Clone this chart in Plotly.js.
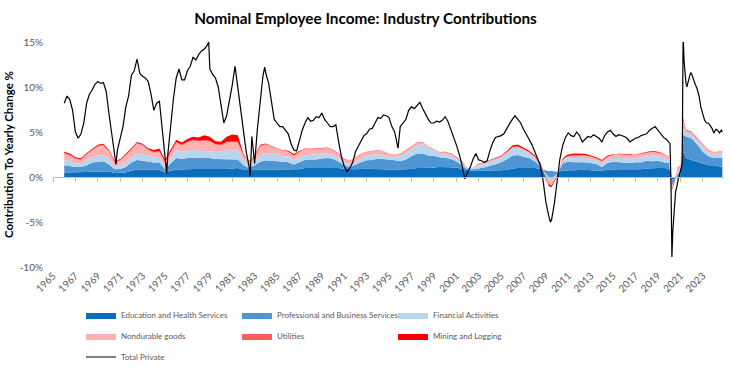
<!DOCTYPE html>
<html>
<head>
<meta charset="utf-8">
<script src="https://cdn.plot.ly/plotly-3.0.1.min.js"></script>
<style>html,body{margin:0;padding:0;background:#fff;}#chart{width:731px;height:368px;}</style>
</head>
<body>
<div id="chart"></div>
<script>
// ---- data ----
const years = [
1966.0,1966.5,1967.0,1967.5,1968.0,1968.5,1969.0,1969.5,1970.0,1970.5,
1971.0,1971.5,1972.0,1972.5,1973.0,1973.5,1974.0,1974.5,1975.0,1975.5,
1976.0,1976.5,1977.0,1977.5,1978.0,1978.5,1979.0,1979.5,1980.0,1980.5,
1981.0,1981.5,1982.0,1982.5,1983.0,1983.5,1984.0,1984.5,1985.0,1985.5,
1986.0,1986.5,1987.0,1987.5,1988.0,1988.5,1989.0,1989.5,1990.0,1990.5,
1991.0,1991.5,1992.0,1992.5,1993.0,1993.5,1994.0,1994.5,1995.0,1995.5,
1996.0,1996.5,1997.0,1997.5,1998.0,1998.5,1999.0,1999.5,2000.0,2000.5,
2001.0,2001.5,2002.0,2002.5,2003.0,2003.5,2004.0,2004.5,2005.0,2005.5,
2006.0,2006.5,2007.0,2007.5,2008.0,2008.5,2008.75,2009.0,2009.25,2009.5,
2009.75,2010.0,2010.25,2010.5,2010.75,2011.0,2011.5,2012.0,2012.5,2013.0,
2013.5,2014.0,2014.5,2015.0,2015.5,2016.0,2016.5,2017.0,2017.5,2018.0,
2018.5,2019.0,2019.5,2019.75,2020.0,2020.17,2020.25,2020.5,2020.75,2021.0,
2021.25,2021.5,2022.0,2022.5,2023.0,2023.5,2024.0,2024.5,2024.75];

const eduHealth = [
0.5,0.5,0.5,0.5,0.55,0.6,0.6,0.65,0.6,0.45,
0.45,0.5,0.7,0.8,0.8,0.8,0.8,0.8,0.5,0.7,
0.8,0.8,0.85,0.9,0.9,0.9,0.9,0.85,0.9,0.9,
0.95,1.0,0.8,0.75,0.8,0.8,0.85,0.85,0.85,0.8,
0.8,0.8,0.85,1.0,1.0,1.0,1.0,1.0,1.0,1.0,
0.9,0.85,0.85,0.9,0.95,0.9,0.9,0.85,0.8,0.8,
0.8,0.85,0.9,1.0,1.0,1.0,1.05,1.1,1.1,1.1,
1.05,0.9,0.75,0.7,0.7,0.7,0.75,0.75,0.75,0.8,
0.95,1.0,1.0,1.0,1.0,0.9,0.75,0.7,0.65,0.6,
0.55,0.55,0.6,0.7,0.7,0.75,0.75,0.8,0.8,0.75,
0.75,0.7,0.8,0.85,0.85,0.85,0.85,0.85,0.85,0.95,
1.0,1.0,1.0,0.95,0.95,0.3,-0.3,-0.2,0.0,0.2,
2.8,2.1,1.9,1.7,1.5,1.3,1.3,1.15,1.1];

const profBusiness = [
0.8,0.7,0.6,0.6,0.75,1.0,1.1,1.1,0.8,0.4,
0.45,0.6,0.9,1.1,1.0,0.9,0.8,0.8,0.35,0.8,
1.3,1.2,1.25,1.2,1.25,1.2,1.2,1.15,1.1,1.1,
1.05,0.95,0.5,0.25,0.5,0.9,1.0,0.95,0.9,0.9,
0.85,0.6,0.8,0.9,0.95,0.95,1.05,1.1,1.0,0.7,
0.4,0.25,0.5,0.75,0.9,1.0,1.15,1.15,1.1,1.05,
0.95,1.1,1.4,1.6,1.6,1.4,1.3,1.1,1.05,0.9,
0.7,0.4,0.1,0.15,0.25,0.35,0.5,0.65,0.9,1.15,
1.4,1.45,1.25,1.1,0.75,0.35,0.0,-0.3,-0.6,-0.65,
-0.45,-0.1,0.3,0.8,0.9,0.95,0.9,0.85,0.85,0.8,
0.7,0.4,0.75,0.85,0.8,0.8,0.7,0.8,0.8,0.85,
0.75,0.8,0.6,0.6,0.6,-0.5,-0.7,-0.2,0.3,0.4,
1.9,2.4,2.4,1.9,1.3,1.0,0.8,0.95,1.0];

const financial = [
0.6,0.6,0.4,0.4,0.6,0.6,0.7,0.7,0.6,0.35,
0.4,0.6,0.6,0.7,0.7,0.7,0.6,0.6,0.3,0.6,
0.9,0.8,0.9,0.9,0.85,0.7,0.75,0.8,0.8,1.0,
0.95,1.05,0.6,0.3,0.6,0.7,0.75,0.8,0.8,0.6,
0.65,0.5,0.6,0.5,0.55,0.6,0.55,0.5,0.45,0.45,
0.3,0.25,0.35,0.45,0.5,0.55,0.5,0.45,0.35,0.35,
0.55,0.65,0.75,0.95,1.0,0.8,0.6,0.4,0.4,0.4,
0.3,0.3,0.15,0.2,0.35,0.4,0.45,0.5,0.5,0.65,
0.8,0.8,0.75,0.55,0.45,0.25,0.05,-0.2,-0.35,-0.4,
-0.3,-0.2,0.05,0.25,0.45,0.45,0.45,0.5,0.45,0.45,
0.4,0.4,0.4,0.4,0.45,0.45,0.45,0.45,0.5,0.5,
0.65,0.55,0.5,0.45,0.4,-0.1,-0.2,0.1,0.3,0.35,
0.7,0.4,0.4,0.4,0.5,0.4,0.4,0.5,0.5];

const nondurable = [
0.7,0.6,0.5,0.4,0.6,0.8,1.0,1.05,0.8,0.45,
0.5,0.7,0.9,1.1,1.0,0.6,0.5,0.6,0.45,0.6,
0.8,0.7,0.85,1.05,0.95,1.2,1.1,0.8,0.7,0.85,
0.9,0.85,0.5,0.4,0.3,1.0,1.0,0.7,0.55,0.6,
0.55,0.55,0.55,0.7,0.55,0.55,0.6,0.6,0.5,0.4,
0.35,0.4,0.5,0.45,0.4,0.4,0.4,0.4,0.3,0.28,
0.28,0.35,0.3,0.25,0.25,0.2,0.15,0.15,0.2,0.18,
0.1,0.05,-0.05,0.0,0.15,0.1,0.12,0.12,0.12,0.15,
0.15,0.15,0.12,0.1,0.05,-0.1,-0.2,-0.35,-0.5,-0.5,
-0.3,-0.2,0.05,0.1,0.15,0.15,0.3,0.25,0.3,0.25,
0.2,0.25,0.3,0.35,0.45,0.4,0.45,0.35,0.4,0.4,
0.4,0.35,0.45,0.35,0.35,-0.3,-0.2,-0.1,0.35,0.3,
0.9,0.25,0.25,0.25,0.25,0.25,0.25,0.25,0.25];

const utilities = [
0.08,0.08,0.08,0.08,0.08,0.08,0.08,0.08,0.08,0.08,
0.08,0.08,0.08,0.08,0.08,0.08,0.08,0.08,0.08,0.08,
0.08,0.08,0.08,0.08,0.08,0.08,0.08,0.08,0.08,0.08,
0.08,0.08,0.08,0.08,0.08,0.08,0.08,0.08,0.08,0.08,
0.08,0.08,0.08,0.08,0.06,0.06,0.06,0.06,0.06,0.06,
0.05,0.05,0.06,0.06,0.05,0.04,0.04,0.03,0.03,0.02,
0.02,0.02,0.02,0.02,0.02,0.02,0.01,0.01,0.02,0.02,
0.02,0.02,0.01,0.01,0.02,0.02,0.02,0.02,0.02,0.02,
0.03,0.03,0.03,0.03,0.03,0.03,0.02,0.02,0.0,0.0,
0.01,0.02,0.02,0.02,0.02,0.02,0.02,0.02,0.02,0.02,
0.02,0.02,0.02,0.02,0.02,0.02,0.02,0.02,0.02,0.02,
0.02,0.02,0.02,0.02,0.02,0.0,0.0,0.0,0.05,0.03,
0.05,0.02,0.02,0.02,0.02,0.02,0.02,0.02,0.02];

const mining = [
0.12,0.12,0.12,0.1,0.1,0.1,0.1,0.12,0.12,0.1,
0.1,0.1,0.1,0.12,0.12,0.12,0.22,0.3,0.25,0.25,
0.25,0.25,0.3,0.35,0.35,0.55,0.45,0.3,0.35,0.55,
0.8,0.7,0.1,-0.05,0.15,0.1,0.05,0.05,0.0,0.0,
-0.1,-0.15,-0.05,0.02,0.02,0.03,0.03,0.03,0.03,0.03,
0.02,0.0,0.0,0.0,0.0,0.01,0.01,0.01,0.01,0.01,
0.02,0.02,0.03,0.03,0.02,0.0,0.0,0.01,0.03,0.04,
0.04,0.04,0.02,0.0,0.02,0.03,0.05,0.06,0.08,0.12,
0.17,0.17,0.15,0.15,0.15,0.15,0.05,-0.05,-0.2,-0.2,
-0.15,-0.05,0.05,0.12,0.15,0.18,0.2,0.2,0.15,0.12,
0.12,0.12,0.12,0.05,-0.02,-0.05,-0.05,0.02,0.05,0.08,
0.1,0.08,0.05,0.03,0.0,-0.2,-0.1,-0.15,0.05,0.0,
0.2,0.05,0.05,0.05,0.03,0.02,0.02,0.02,0.02];

const totalX = [
1966.00,1966.25,1966.50,1966.75,1967.00,1967.25,1967.50,1967.75,1968.00,1968.25,1968.50,1968.75,
1969.00,1969.25,1969.50,1969.75,1970.00,1970.25,1970.50,1970.62,1970.75,1971.00,1971.25,1971.50,1971.75,
1972.00,1972.25,1972.50,1972.75,1973.00,1973.25,1973.50,1973.75,1974.00,1974.25,1974.50,1974.75,
1975.00,1975.15,1975.25,1975.50,1975.75,1976.00,1976.25,1976.50,1976.75,1977.00,1977.25,1977.50,1977.75,
1978.00,1978.25,1978.50,1978.75,1978.90,1979.00,1979.25,1979.50,1979.75,1980.00,1980.25,1980.50,1980.75,
1981.00,1981.25,1981.50,1981.75,1982.00,1982.25,1982.50,1982.60,1982.75,1983.00,1983.25,1983.50,1983.75,1983.90,
1984.00,1984.25,1984.50,1984.75,1985.00,1985.25,1985.50,1985.75,1986.00,1986.25,1986.50,1986.75,
1987.00,1987.25,1987.50,1987.75,1988.00,1988.25,1988.50,1988.75,1989.00,1989.25,1989.50,1989.75,
1990.00,1990.25,1990.50,1990.75,1991.00,1991.25,1991.50,1991.75,1992.00,1992.25,1992.50,1992.75,
1993.00,1993.25,1993.50,1993.75,1994.00,1994.25,1994.50,1994.75,1995.00,1995.25,1995.50,1995.80,
1996.00,1996.25,1996.50,1996.75,1997.00,1997.25,1997.50,1997.75,1998.00,1998.25,1998.50,1998.75,
1999.00,1999.25,1999.50,1999.75,2000.00,2000.25,2000.50,2000.75,2001.00,2001.25,2001.50,2001.75,
2002.00,2002.25,2002.50,2002.75,2003.00,2003.25,2003.50,2003.75,2004.00,2004.25,2004.50,2004.75,
2005.00,2005.25,2005.50,2005.75,2006.00,2006.25,2006.50,2006.75,2007.00,2007.25,2007.50,2007.75,
2008.00,2008.25,2008.50,2008.75,2009.00,2009.25,2009.40,2009.50,2009.75,
2010.00,2010.25,2010.50,2010.75,2011.00,2011.25,2011.50,2011.75,2012.00,2012.25,2012.50,2012.75,
2013.00,2013.25,2013.50,2013.75,2014.00,2014.25,2014.50,2014.75,2015.00,2015.25,2015.50,2015.75,
2016.00,2016.25,2016.50,2016.75,2017.00,2017.25,2017.50,2017.75,2018.00,2018.25,2018.50,2018.75,
2019.00,2019.25,2019.50,2019.75,2020.00,2020.08,2020.17,2020.25,2020.33,2020.42,2020.50,2020.58,
2020.67,2020.75,2020.83,2020.92,2021.00,2021.08,2021.17,2021.25,2021.33,2021.42,2021.50,2021.58,
2021.67,2021.75,2021.83,2021.92,2022.00,2022.17,2022.33,2022.50,2022.67,2022.83,2023.00,2023.17,
2023.33,2023.50,2023.67,2023.83,2024.00,2024.17,2024.33,2024.50,2024.67,2024.75];

const totalPrivate = [
8.2,9.0,8.6,7.4,5.0,4.3,4.8,6.0,8.2,9.2,9.7,10.3,
10.6,10.4,10.5,9.5,7.0,5.0,2.5,1.4,3.0,4.3,5.6,7.8,9.0,
11.3,11.8,13.1,11.5,11.2,11.0,10.6,9.2,7.4,8.2,8.4,5.5,
2.0,0.4,2.5,6.0,8.7,11.0,12.0,10.8,10.8,11.8,12.3,13.3,13.0,
13.6,14.0,14.2,14.6,15.0,12.0,11.4,11.0,10.0,8.2,6.0,6.8,8.4,
10.2,12.3,10.0,8.0,5.2,2.8,1.2,0.1,4.5,1.5,5.4,8.6,11.3,12.2,
11.5,10.4,8.4,6.4,6.0,5.6,5.6,5.2,4.8,3.7,3.0,2.9,
4.2,5.2,6.0,6.6,6.2,6.3,6.7,6.6,7.1,6.4,6.0,5.6,
5.6,5.8,3.9,2.2,1.2,0.6,1.0,1.6,2.8,3.5,4.0,4.6,
4.8,5.3,5.4,6.0,6.6,6.5,6.9,6.8,6.6,5.6,5.0,3.2,
5.6,6.0,6.4,7.4,7.8,7.6,8.0,8.3,7.6,6.9,6.4,6.0,
6.0,6.2,6.1,6.3,6.7,6.2,5.4,4.4,3.6,2.6,1.4,-0.2,
0.4,1.1,2.0,2.6,1.9,1.8,1.6,1.8,2.9,3.8,4.4,4.5,
4.6,4.8,5.4,5.9,6.4,6.8,6.4,6.0,5.3,4.8,4.2,3.6,
2.8,2.0,1.3,-0.4,-2.8,-4.3,-5.0,-4.8,-3.0,
-0.5,2.0,3.5,4.4,4.9,4.6,4.5,5.0,4.6,3.9,4.2,4.5,
4.4,4.7,4.5,4.3,3.9,4.6,5.0,5.2,4.8,4.5,4.7,4.6,
4.5,4.3,3.9,4.1,4.3,4.4,4.6,4.7,4.8,5.2,5.4,5.6,
5.2,4.8,4.4,4.2,3.9,3.7,-0.9,-8.9,-6.0,-4.2,-3.0,-1.6,
-1.2,-0.5,-0.1,0.2,0.5,1.0,1.5,16.0,13.0,11.5,10.5,10.0,
10.4,11.0,11.3,11.6,11.5,10.8,10.3,9.8,9.0,7.8,7.0,6.3,
6.0,6.0,5.7,5.4,4.9,5.3,5.2,4.9,5.2,5.0];

const seriesNames = ["Education and Health Services","Professional and Business Services","Financial Activities",
                     "Nondurable goods","Utilities","Mining and Logging"];
const seriesValues = [eduHealth, profBusiness, financial, nondurable, utilities, mining];
const seriesColors = ["#0a6ebd","#4d95d3","#b8d6f0","#ffb1b1","#ff5c5c","#ff0000"];
const seriesLegend = ["legend","legend","legend","legend2","legend2","legend2"];
const yTicks = [-10,-5,0,5,10,15];

const FONT = "Lato, 'Noto Sans', sans-serif";
const traces = seriesNames.map((n,i)=>({
  type:"scatter", mode:"lines", x:years, y:seriesValues[i], name:n,
  stackgroup:"one", line:{width:0}, fillcolor:seriesColors[i],
  legend:seriesLegend[i], hoverinfo:"skip"
}));
traces.push({type:"scatter", mode:"lines", x:totalX, y:totalPrivate, name:"Total Private",
  line:{color:"#000000", width:1.2}, legend:"legend3", hoverinfo:"skip"});
traces.push({type:"scatter", mode:"markers", x:[1965], y:[0], xaxis:"x2", yaxis:"y",
  marker:{opacity:0}, showlegend:false, hoverinfo:"skip"});

const xr = [1965, 2024.9];
const legendBase = {orientation:"h", xanchor:"left", yanchor:"middle", x:0.0417,
  bgcolor:"rgba(0,0,0,0)", font:{family:FONT, size:8, color:"#595959"},
  entrywidth:111, entrywidthmode:"pixels", traceorder:"normal", itemclick:false};

const layout = {
  width:731, height:368,
  margin:{l:53, r:7, t:42, b:101, autoexpand:false},
  paper_bgcolor:"#ffffff", plot_bgcolor:"#ffffff",
  title:{text:"Nominal Employee Income: Industry Contributions",
    font:{family:FONT, size:15.3, color:"#000000", weight:"bold"},
    x:0.5, xanchor:"center", xref:"container", y:0.95, yanchor:"middle"},
  xaxis:{range:xr, tick0:1965, dtick:2, tickformat:"d", tickangle:-45,
    showline:false, ticks:"", showgrid:false, zeroline:false, automargin:false,
    tickfont:{family:FONT, size:10, color:"#595959"}},
  xaxis2:{range:xr, overlaying:"x", anchor:"free", position:0.4, tick0:1965, dtick:2,
    showticklabels:false, ticks:"outside", ticklen:4, tickcolor:"#bfbfbf",
    showline:true, linecolor:"#bfbfbf", linewidth:1, showgrid:false, zeroline:false},
  yaxis:{range:[-10,15], tickvals:yTicks, ticktext:yTicks.map(v=>v+"%"),
    showgrid:false, zeroline:false, showline:false, ticks:"", automargin:false,
    ticklabelstandoff:9,
    tickfont:{family:FONT, size:10, color:"#595959"},
    title:{text:"Contribution To Yearly Change %", standoff:3,
      font:{family:FONT, size:11.5, color:"#000000", weight:"bold"}}},
  legend:Object.assign({}, legendBase, {y:-0.2133}),
  legend2:Object.assign({}, legendBase, {y:-0.3067}),
  legend3:Object.assign({}, legendBase, {y:-0.40}),
  showlegend:true
};

Plotly.newPlot("chart", traces, layout, {displayModeBar:false, staticPlot:true});
</script>
</body>
</html>
